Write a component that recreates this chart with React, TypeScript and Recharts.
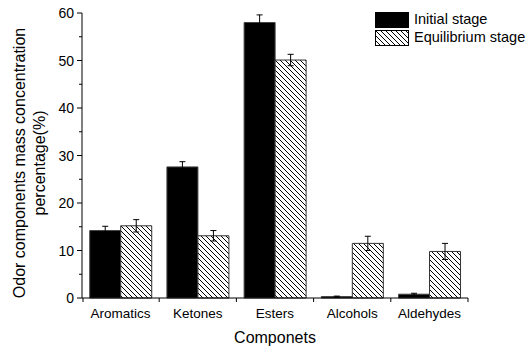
import React from 'react';
import { BarChart, Bar, XAxis, YAxis, ErrorBar } from 'recharts';

const categories = ['Aromatics', 'Ketones', 'Esters', 'Alcohols', 'Aldehydes'];
const initialStage = [14.2, 27.6, 58.0, 0.3, 0.8];
const initialErr = [0.9, 1.1, 1.6, 0.1, 0.2];
const equilibriumStage = [15.2, 13.1, 50.1, 11.5, 9.8];
const equilibriumErr = [1.3, 1.1, 1.2, 1.5, 1.7];
const yTicks = [0, 5, 10, 15, 20, 25, 30, 35, 40, 45, 50, 55, 60];

const data = categories.map((name, i) => ({
  name,
  initial: initialStage[i],
  initialErr: initialErr[i],
  equilibrium: equilibriumStage[i],
  equilibriumErr: equilibriumErr[i],
}));

const FONT = '"Liberation Sans", Arial, sans-serif';
const AXIS_X = 82;
const AXIS_Y = 298;
const BAND = (468 - 82) / 5;

// x ticks sit on category boundaries, labels in the middle
const XTick = (props: any) => {
  const { x, payload, index } = props;
  const right = x + BAND / 2;
  return (
    <g>
      <line x1={right} y1={AXIS_Y} x2={right} y2={AXIS_Y + 4} stroke="#000" />
      {index === 0 && <line x1={x - BAND / 2 + 1} y1={AXIS_Y} x2={x - BAND / 2 + 1} y2={AXIS_Y + 4} stroke="#000" />}
      <text x={x} y={318} textAnchor="middle" fontSize={13.5} fontFamily={FONT} fill="#000">
        {payload.value}
      </text>
    </g>
  );
};

const YTick = (props: any) => {
  const { y, payload } = props;
  const major = payload.value % 10 === 0;
  return (
    <g>
      <line x1={AXIS_X - (major ? 5 : 3)} y1={y} x2={AXIS_X} y2={y} stroke="#000" />
      {major && (
        <text x={74} y={y + 5} textAnchor="end" fontSize={14} fontFamily={FONT} fill="#000">
          {payload.value}
        </text>
      )}
    </g>
  );
};

const YTitle = () => (
  <g fontFamily={FONT} fontSize={16} fill="#000">
    <text transform="translate(25,163) rotate(-90)" textAnchor="middle">
      Odor components mass concentration
    </text>
    <text transform="translate(45,163) rotate(-90)" textAnchor="middle">
      percentage(%)
    </text>
  </g>
);

const XTitle = () => (
  <text x={275} y={343} textAnchor="middle" fontFamily={FONT} fontSize={16} fill="#000">
    Componets
  </text>
);

const Swatch = ({ hatched }: { hatched: boolean }) => (
  <svg width={34} height={16} style={{ display: 'block' }}>
    <defs>
      <pattern id="legHatch" patternUnits="userSpaceOnUse" width={5} height={5}>
        <rect width={5} height={5} fill="#fff" />
        <path d="M0,0 L5,5 M-1,4 L1,6 M4,-1 L6,1" stroke="#000" strokeWidth={1} />
      </pattern>
    </defs>
    <rect x={0.5} y={0.5} width={33} height={15} fill={hatched ? 'url(#legHatch)' : '#000'} stroke="#000" />
  </svg>
);

const LegendBox = () => (
  <div
    style={{
      position: 'absolute',
      left: 375,
      top: 11,
      fontFamily: FONT,
      fontSize: 14.5,
      color: '#000',
      lineHeight: '17px',
    }}
  >
    <div style={{ display: 'flex', alignItems: 'center', gap: 5 }}>
      <Swatch hatched={false} />
      <span>Initial stage</span>
    </div>
    <div style={{ display: 'flex', alignItems: 'center', gap: 5, marginTop: 1 }}>
      <Swatch hatched={true} />
      <span>Equilibrium stage</span>
    </div>
  </div>
);

export default function App() {
  return (
    <div style={{ position: 'absolute', left: 0, top: 0, width: 531, height: 352, background: '#fff' }}>
      <BarChart
        width={531}
        height={352}
        data={data}
        margin={{ top: 13, right: 63, left: 0, bottom: 0 }}
        barCategoryGap="10%"
        barGap={0}
      >
        <defs>
          <pattern id="hatch" patternUnits="userSpaceOnUse" width={5} height={5}>
            <rect width={5} height={5} fill="#fff" />
            <path d="M0,0 L5,5 M-1,4 L1,6 M4,-1 L6,1" stroke="#000" strokeWidth={1} />
          </pattern>
        </defs>
        <XAxis
          dataKey="name"
          height={54}
          axisLine={{ stroke: '#000' }}
          tickLine={false}
          tick={<XTick />}
          interval={0}
          label={<XTitle />}
        />
        <YAxis
          width={82}
          domain={[0, 60]}
          ticks={yTicks}
          interval={0}
          axisLine={{ stroke: '#000' }}
          tickLine={false}
          tick={<YTick />}
          label={<YTitle />}
        />
        <Bar dataKey="initial" fill="#000" stroke="#444" strokeWidth={1} isAnimationActive={false}>
          <ErrorBar dataKey="initialErr" width={3} stroke="#000" strokeWidth={1} isAnimationActive={false} />
        </Bar>
        <Bar dataKey="equilibrium" fill="url(#hatch)" stroke="#333" strokeWidth={1} isAnimationActive={false}>
          <ErrorBar dataKey="equilibriumErr" width={3} stroke="#000" strokeWidth={1} isAnimationActive={false} />
        </Bar>
      </BarChart>
      <LegendBox />
    </div>
  );
}
